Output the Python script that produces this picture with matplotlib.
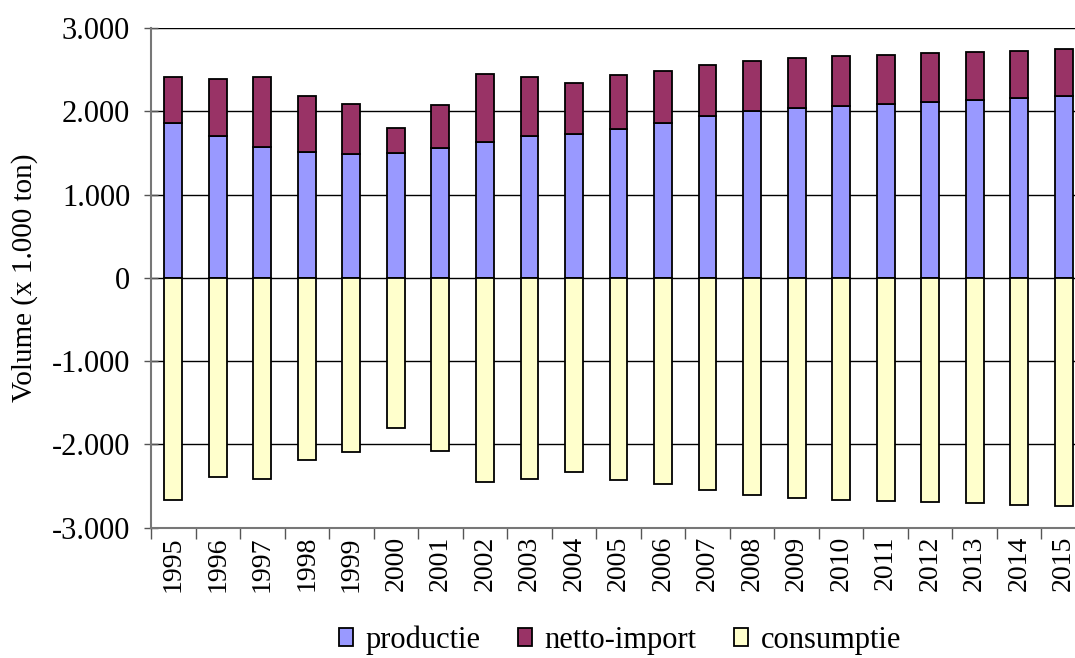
import matplotlib
matplotlib.use("Agg")
import matplotlib.pyplot as plt
from matplotlib.ticker import FuncFormatter
import numpy as np

years = [str(y) for y in range(1995, 2016)]
productie = [1860, 1700, 1569, 1509, 1489, 1501, 1557, 1629, 1709, 1725, 1783,
             1865, 1945, 2005, 2037, 2061, 2085, 2109, 2133, 2157, 2181]
totaal = [2413, 2389, 2413, 2181, 2093, 1801, 2073, 2453, 2417, 2337, 2435,
          2481, 2557, 2605, 2645, 2669, 2681, 2697, 2709, 2729, 2745]
netto_import = [t - p for t, p in zip(totaal, productie)]
consumptie = [-2665, -2389, -2417, -2185, -2093, -1801, -2077, -2453, -2421, -2333, -2433,
              -2477, -2549, -2605, -2645, -2665, -2681, -2693, -2709, -2725, -2741]

plt.rcParams['font.family'] = ['Liberation Serif', 'DejaVu Serif']

W, H = 1075, 658
fig = plt.figure(figsize=(W / 100, H / 100), dpi=100)
left, right, top, bottom = 151, 1086, 28, 527.7
ax = fig.add_axes([left / W, 1 - bottom / H, (right - left) / W, (bottom - top) / H])

x = np.arange(len(years))
bw = 0.4
ec = '#000000'
ax.bar(x, productie, bw, color='#9999ff', edgecolor=ec, linewidth=1.3, label='productie', zorder=3)
ax.bar(x, netto_import, bw, bottom=productie, color='#993366', edgecolor=ec, linewidth=1.3,
       label='netto-import', zorder=3)
ax.bar(x, consumptie, bw, color='#ffffcc', edgecolor=ec, linewidth=1.3, label='consumptie', zorder=3)

ax.set_xlim(-0.5, len(years) - 0.5)
ax.set_ylim(-3000, 3000)
ax.set_yticks(np.arange(-3000, 3001, 1000))
ax.yaxis.set_major_formatter(FuncFormatter(lambda v, p: f"{int(v):,}".replace(",", ".")))
ax.grid(axis='y', color='#000000', linewidth=1.0, zorder=0)
ax.set_axisbelow(True)

ax.set_xticks(np.arange(-0.5, len(years), 1), minor=False)
ax.set_xticklabels([])
ax.set_xticks(x, minor=True)
ax.set_xticklabels(years, minor=True, rotation=90, fontsize=20)
ax.tick_params(axis='x', which='minor', length=0, pad=6)
ax.tick_params(axis='x', which='major', length=8, width=1, direction='out', color='#555555')
ax.tick_params(axis='y', length=10, width=1, direction='inout', labelsize=22, pad=10, color='#555555')

for s in ['top', 'right']:
    ax.spines[s].set_visible(False)
ax.spines['left'].set_color('#777777')
ax.spines['left'].set_linewidth(1.5)
ax.spines['bottom'].set_color('#777777')
ax.spines['bottom'].set_linewidth(1.5)

ax.set_ylabel('Volume (x 1.000 ton)', fontsize=21, labelpad=10)

fig.legend(loc='center', bbox_to_anchor=(620 / W, 1 - 640 / H), ncol=3, frameon=False,
           fontsize=22, handlelength=0.45, handleheight=0.5, handletextpad=0.4, columnspacing=1.25)

fig.savefig('out.png', dpi=100)
